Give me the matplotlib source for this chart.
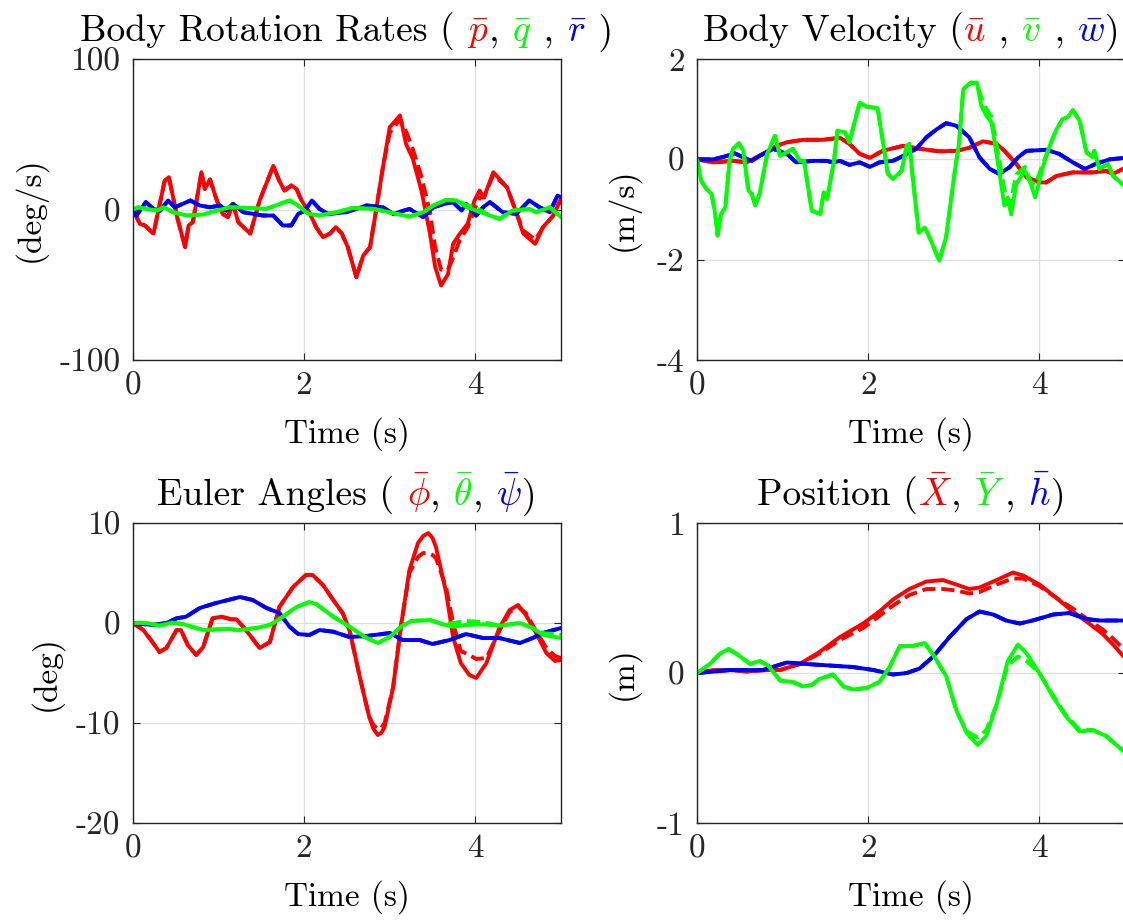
import matplotlib
matplotlib.use("Agg")
import matplotlib.pyplot as plt
from matplotlib.offsetbox import TextArea, HPacker, AnnotationBbox

plt.rcParams["font.family"] = ["cmr10"]
plt.rcParams["mathtext.fontset"] = "cm"
plt.rcParams["axes.unicode_minus"] = False

# ---------------- Body rotation rates (deg/s) ----------------
t_p = [0.00, 0.08, 0.14, 0.22, 0.24, 0.37, 0.42, 0.52, 0.61, 0.65, 0.70, 0.80, 0.84, 0.90, 0.98,
       1.05, 1.11, 1.17, 1.23, 1.37, 1.48, 1.64, 1.71, 1.77, 1.85, 1.91, 1.97, 2.07, 2.14, 2.22,
       2.30, 2.37, 2.44, 2.51, 2.61, 2.69, 2.77, 2.84, 2.92, 3.00, 3.12, 3.19, 3.27, 3.37, 3.47,
       3.53, 3.60, 3.68, 3.74, 3.82, 3.91, 3.99, 4.05, 4.10, 4.21, 4.37, 4.47, 4.56, 4.70, 4.79,
       4.91, 5.00]
p_true = [0, -9.5, -10.6, -15, -16, 19, 21.5, -6, -25, -10.6, -8.4, 24.8, 13.7, 20, 6,
          -3, -5, 3.8, -8.4, -16, 6, 29, 19, 12.6, 16, 13.7, 6, -3, -11.7, -18.4,
          -16, -11.7, -16, -25, -45, -30.6, -25, -0.7, 28, 54.7, 62.5, 43.6, 33.7, 12.6, -16,
          -38, -50.5, -43, -22.8, -16, -9.5, 6, 12.6, 8, 24.8, 14.8, -0.7, -16, -22.8, -11.7,
          -4, 7]
p_est = [0, -9.5, -10.6, -15, -16, 19, 21.5, -6, -25, -10.6, -8.4, 24.8, 13.7, 20, 6,
         -3, -5, 3.8, -8.4, -16, 6, 29, 19, 12.6, 16, 13.7, 6, -3, -11.7, -18.4,
         -16, -11.7, -16, -25, -45, -30.6, -25, -0.7, 28, 51, 60, 52, 40, 22, -2,
         -25, -40, -40, -32, -20, -12, 0, 8, 8, 23, 14.8, -0.7, -14, -20, -12,
         -4, 7]

t_q = [0, 0.06, 0.16, 0.28, 0.36, 0.47, 0.63, 0.82, 0.98, 1.13, 1.40, 1.56, 1.72, 1.83, 1.93,
       2.05, 2.18, 2.38, 2.57, 2.81, 3.04, 3.23, 3.39, 3.51, 3.66, 3.78, 3.90, 4.01, 4.17, 4.28,
       4.44, 4.63, 4.71, 4.87, 5.00]
q_true = [0, 1.5, 0.4, -0.7, 1.5, -1.8, -4, -3.3, -0.7, 1.5, 1, 0.4, 3.8, 6, 2.7,
          -2.9, -4, -1.8, 1.1, 0.4, -2.4, -4.7, -1.8, 2.7, 6.4, 6, 1.5, -0.7, -4, -6.2,
          -0.7, 0.4, -1.8, 1.5, -5]
q_est = [0, 1.5, 0.4, -0.7, 1.5, -1.8, -4, -3.3, -0.7, 1.5, 1, 0.4, 3.8, 6, 2.7,
         -2.9, -4, -1.8, 1.1, 0.4, -2.4, -4.7, -1.8, 2.7, 6.4, 6, 3, 1, -4, -6.2,
         -0.7, 0.4, -1.8, 1.5, -5]

t_r = [0, 0.04, 0.15, 0.24, 0.32, 0.41, 0.49, 0.67, 0.78, 0.90, 1.02, 1.09, 1.17, 1.29, 1.52,
       1.64, 1.75, 1.85, 1.93, 2.01, 2.09, 2.18, 2.28, 2.49, 2.73, 2.92, 3.04, 3.23, 3.39, 3.51,
       3.64, 3.74, 3.84, 3.89, 4.01, 4.09, 4.17, 4.32, 4.48, 4.63, 4.75, 4.87, 4.96, 5.00]
r_true = [0, -4, 4.9, 0.4, -0.7, 6, 1.5, 6, 2.7, 1.5, 2.7, -0.7, 3.8, -1.8, -4,
          -4, -10.6, -10.6, -2.9, -0.7, 6, 0.4, -2.9, -1.8, 2.7, 1.5, -2.9, 0.4, -5, 1.5,
          3.8, 4.9, -0.7, 3.8, -4, 1.5, 4.9, -1.8, -2.9, 6, 1.5, -1.8, 9.3, 8.2]
r_est = list(r_true)

# ---------------- Body velocity (m/s) ----------------
t_u = [0, 0.19, 0.42, 0.58, 0.73, 0.93, 1.05, 1.24, 1.47, 1.67, 1.78, 1.90, 2.02, 2.17, 2.41,
       2.60, 2.83, 3.03, 3.18, 3.34, 3.50, 3.59, 3.73, 3.85, 4.00, 4.08, 4.20, 4.39, 4.62, 4.78,
       4.86, 5.00]
u_true = [0, -0.06, -0.03, -0.06, 0.07, 0.27, 0.34, 0.39, 0.39, 0.43, 0.31, 0.11, 0.03, 0.17, 0.27,
          0.21, 0.16, 0.17, 0.23, 0.36, 0.31, 0.17, -0.09, -0.36, -0.46, -0.46, -0.33, -0.26, -0.26, -0.23,
          -0.29, -0.17]
u_est = list(u_true)

t_v = [0, 0.05, 0.11, 0.17, 0.21, 0.24, 0.28, 0.33, 0.38, 0.42, 0.49, 0.54, 0.60, 0.64, 0.68,
       0.73, 0.82, 0.91, 0.97, 1.12, 1.20, 1.25, 1.34, 1.44, 1.48, 1.52, 1.60, 1.64, 1.73, 1.78,
       1.90, 1.98, 2.11, 2.23, 2.29, 2.39, 2.45, 2.48, 2.52, 2.59, 2.66, 2.70, 2.83, 2.91, 3.01,
       3.06, 3.11, 3.20, 3.27, 3.32, 3.38, 3.44, 3.53, 3.59, 3.63, 3.67, 3.73, 3.83, 3.90, 3.95,
       4.04, 4.12, 4.20, 4.27, 4.33, 4.39, 4.47, 4.55, 4.62, 4.64, 4.70, 4.80, 4.86, 4.93, 5.00]
v_true = [0, -0.43, -0.59, -0.69, -1.06, -1.52, -1.09, -0.96, -0.03, 0.21, 0.32, 0.17, -0.62, -0.69, -0.92,
          -0.69, 0.11, 0.47, 0.07, 0.21, -0.03, -0.03, -1.02, -1.09, -0.66, -0.79, -0.03, 0.57, 0.54, 0.34,
          1.13, 1.05, 1.02, -0.29, -0.39, -0.23, 0.27, 0.31, -0.36, -1.46, -1.36, -1.49, -2.02, -1.55, -0.26,
          0.31, 1.40, 1.53, 1.53, 1.07, 0.87, 0.74, -0.23, -0.92, -0.76, -1.10, -0.49, -0.23, -0.49, -0.76,
          -0.16, 0.27, 0.60, 0.80, 0.84, 0.98, 0.77, 0.14, 0.04, 0.17, -0.19, -0.09, -0.33, -0.43, -0.55]
v_est = [0, -0.43, -0.59, -0.69, -1.06, -1.52, -1.09, -0.96, -0.03, 0.21, 0.32, 0.17, -0.62, -0.69, -0.92,
         -0.69, 0.11, 0.47, 0.07, 0.21, -0.03, -0.03, -1.02, -1.09, -0.66, -0.79, -0.03, 0.57, 0.54, 0.34,
         1.13, 1.05, 1.02, -0.29, -0.39, -0.23, 0.27, 0.31, -0.36, -1.46, -1.36, -1.49, -2.02, -1.55, -0.26,
         0.31, 1.40, 1.53, 1.50, 1.25, 1.00, 0.85, 0.00, -0.60, -0.90, -0.80, -0.30, -0.15, -0.45, -0.50,
         -0.10, 0.27, 0.60, 0.80, 0.84, 0.98, 0.77, 0.14, 0.04, 0.17, -0.19, -0.09, -0.33, -0.43, -0.55]

t_w = [0, 0.19, 0.31, 0.44, 0.54, 0.64, 0.73, 0.89, 1.05, 1.16, 1.36, 1.51, 1.59, 1.67, 1.78,
       1.90, 2.02, 2.13, 2.29, 2.41, 2.56, 2.68, 2.80, 2.91, 3.03, 3.18, 3.30, 3.42, 3.53, 3.65,
       3.75, 3.85, 4.08, 4.23, 4.39, 4.53, 4.66, 4.82, 5.00]
w_true = [0, 0, 0.05, 0.12, 0.04, -0.03, 0.07, 0.21, 0.11, -0.06, -0.03, -0.03, -0.06, -0.03, -0.11,
          -0.06, -0.15, -0.06, -0.03, 0.07, 0.21, 0.44, 0.6, 0.72, 0.67, 0.44, 0.04, -0.19, -0.29, -0.16,
          0.04, 0.17, 0.19, 0.11, -0.06, -0.19, -0.09, 0, 0.03]
w_est = list(w_true)

# ---------------- Euler angles (deg) ----------------
t_phi = [0, 0.12, 0.21, 0.31, 0.39, 0.51, 0.56, 0.64, 0.74, 0.82, 0.93, 1.03, 1.15, 1.21, 1.32,
         1.48, 1.60, 1.71, 1.87, 2.02, 2.10, 2.22, 2.34, 2.45, 2.53, 2.65, 2.76, 2.81, 2.86, 2.90,
         2.94, 3.04, 3.13, 3.23, 3.33, 3.39, 3.45, 3.50, 3.54, 3.66, 3.74, 3.83, 3.93, 4.01, 4.13,
         4.28, 4.40, 4.50, 4.59, 4.71, 4.83, 4.93, 5.00]
phi_true = [0, -0.7, -1.7, -2.9, -2.5, -0.7, -0.7, -2.2, -3.2, -2.4, 0.47, 0.63, 0.37, 0.37, -0.7,
            -2.5, -1.9, 1.6, 3.6, 4.8, 4.8, 3.8, 2.3, 1.0, -0.7, -5.4, -9.4, -10.6, -11.2, -11.0,
            -10.4, -6.4, -0.37, 5.3, 8.0, 8.7, 9.0, 8.5, 7.6, 3.0, -1.4, -4.0, -5.2, -5.5, -4.0,
            -0.5, 1.3, 1.8, 0.8, -1.0, -3.0, -3.8, -3.7]
phi_est = [0, -0.7, -1.7, -2.9, -2.5, -0.7, -0.7, -2.2, -3.2, -2.4, 0.47, 0.63, 0.37, 0.37, -0.7,
           -2.5, -1.9, 1.6, 3.6, 4.8, 4.8, 3.8, 2.3, 1.0, -0.7, -5.4, -9.4, -10.2, -10.6, -10.5,
           -10.0, -6.4, -0.37, 5.0, 6.6, 7.0, 7.0, 6.8, 6.5, 3.5, 0.0, -2.8, -3.2, -3.6, -3.5,
           -0.8, 1.1, 1.6, 1.0, -0.8, -2.5, -3.3, -3.5]

t_th = [0, 0.16, 0.31, 0.45, 0.58, 0.82, 1.09, 1.25, 1.44, 1.60, 1.75, 1.91, 2.06, 2.14, 2.34,
        2.53, 2.73, 2.86, 3.00, 3.13, 3.25, 3.47, 3.62, 3.74, 3.89, 4.09, 4.28, 4.52, 4.67, 4.79,
        5.00]
th_true = [0, 0, -0.27, 0.03, -0.1, -0.7, -0.6, -0.7, -0.5, -0.2, 0.63, 1.6, 2.1, 1.9, 0.63,
           -0.37, -1.5, -2.0, -1.4, -0.37, 0.2, 0.3, -0.13, -0.37, -0.2, -0.13, -0.27, 0, -0.5, -1.2,
           -1.5]
th_est = [0, 0, -0.27, 0.03, -0.1, -0.7, -0.6, -0.7, -0.5, -0.2, 0.63, 1.6, 2.1, 1.9, 0.63,
          -0.37, -1.5, -2.0, -1.4, -0.37, 0.2, 0.3, -0.13, 0.0, 0.2, 0.1, -0.27, 0, -0.5, -1.0,
          -1.2]

t_psi = [0, 0.23, 0.39, 0.51, 0.62, 0.78, 0.97, 1.25, 1.40, 1.56, 1.71, 1.83, 1.93, 2.06, 2.18,
         2.34, 2.53, 2.73, 3.00, 3.15, 3.35, 3.50, 3.70, 3.89, 4.09, 4.28, 4.52, 4.67, 4.79, 5.00]
psi_true = [0, -0.2, 0, 0.47, 0.63, 1.5, 2.0, 2.6, 2.3, 1.5, 1.0, -0.37, -1.1, -1.2, -0.7,
            -0.87, -1.4, -1.3, -1.0, -1.7, -1.7, -2.1, -1.7, -1.1, -1.5, -1.5, -2.0, -1.5, -1.0, -0.5]
psi_est = list(psi_true)

# ---------------- Position (m) ----------------
t_X = [0, 0.19, 0.39, 0.58, 0.81, 0.97, 1.20, 1.43, 1.67, 1.94, 2.13, 2.29, 2.48, 2.68, 2.87,
       3.03, 3.18, 3.30, 3.50, 3.69, 3.81, 4.00, 4.20, 4.39, 4.58, 4.74, 4.86, 5.00]
X_true = [0, 0.02, 0.02, 0.01, 0.02, 0.02, 0.06, 0.14, 0.24, 0.33, 0.41, 0.49, 0.56, 0.61, 0.62,
          0.59, 0.56, 0.57, 0.62, 0.67, 0.65, 0.59, 0.50, 0.41, 0.33, 0.26, 0.19, 0.10]
X_est = [0, 0.02, 0.02, 0.01, 0.02, 0.02, 0.06, 0.13, 0.22, 0.30, 0.38, 0.45, 0.52, 0.56, 0.56,
         0.55, 0.53, 0.54, 0.59, 0.63, 0.63, 0.58, 0.50, 0.43, 0.35, 0.29, 0.23, 0.15]

t_Y = [0, 0.15, 0.27, 0.37, 0.48, 0.62, 0.73, 0.83, 0.97, 1.12, 1.24, 1.34, 1.43, 1.59, 1.71,
       1.82, 1.98, 2.13, 2.25, 2.37, 2.52, 2.66, 2.76, 2.91, 3.03, 3.15, 3.28, 3.38, 3.50, 3.63,
       3.75, 3.85, 4.00, 4.16, 4.31, 4.47, 4.62, 4.78, 4.90, 5.00]
Y_true = [0, 0.06, 0.13, 0.16, 0.12, 0.06, 0.08, 0.05, -0.05, -0.06, -0.09, -0.08, -0.04, -0.01, -0.09,
          -0.11, -0.10, -0.06, 0.04, 0.18, 0.18, 0.20, 0.12, -0.02, -0.25, -0.40, -0.48, -0.42, -0.21, 0.08,
          0.19, 0.13, 0.0, -0.16, -0.29, -0.39, -0.38, -0.42, -0.48, -0.53]
Y_est = [0, 0.06, 0.13, 0.16, 0.12, 0.06, 0.08, 0.05, -0.05, -0.06, -0.09, -0.08, -0.04, -0.01, -0.09,
         -0.11, -0.10, -0.06, 0.04, 0.18, 0.18, 0.20, 0.12, -0.02, -0.25, -0.39, -0.43, -0.38, -0.21, 0.05,
         0.11, 0.08, 0.0, -0.15, -0.28, -0.38, -0.38, -0.42, -0.48, -0.53]

t_h = [0, 0.39, 0.77, 1.05, 1.28, 1.55, 1.82, 2.06, 2.29, 2.45, 2.60, 2.76, 2.95, 3.15, 3.30,
       3.46, 3.61, 3.77, 3.92, 4.16, 4.35, 4.55, 4.70, 5.00]
h_true = [0, 0.02, 0.02, 0.07, 0.06, 0.05, 0.04, 0.02, -0.01, 0, 0.03, 0.11, 0.24, 0.36, 0.41,
          0.39, 0.35, 0.33, 0.35, 0.39, 0.40, 0.36, 0.35, 0.35]
h_est = list(h_true)

# ---------------- figure ----------------
FS = 24
FS_TITLE = 27
RED, GREEN, BLUE = (1, 0, 0), (0, 1, 0), (0, 0, 1)
LW = 2.8
DASH = (0, (3.4, 1.5))

fig = plt.figure(figsize=(11.23, 9.21), dpi=100)
W = 0.3811
H_top, H_bot = 0.3268, 0.3257
axes_pos = [
    [0.1184, 0.6091, W, H_top],
    [0.6207, 0.6091, W, H_top],
    [0.1184, 0.1064, W, H_bot],
    [0.6207, 0.1064, W, H_bot],
]

panels = [
    dict(series=[(t_p, p_true, p_est, RED), (t_r, r_true, r_est, BLUE), (t_q, q_true, q_est, GREEN)],
         ylim=(-100, 100), yticks=[-100, 0, 100], ylabel="(deg/s)", ylab_x=-0.201,
         title=[("Body Rotation Rates ( ", "k"), (r"$\bar{p}$", RED), (", ", "k"),
                (r"$\bar{q}$", GREEN), (" , ", "k"), (r"$\bar{r}$", BLUE), (" )", "k")]),
    dict(series=[(t_u, u_true, u_est, RED), (t_w, w_true, w_est, BLUE), (t_v, v_true, v_est, GREEN)],
         ylim=(-4, 2), yticks=[-4, -2, 0, 2], ylabel="(m/s)", ylab_x=-0.135,
         title=[("Body Velocity (", "k"), (r"$\bar{u}$", RED), (" , ", "k"),
                (r"$\bar{v}$", GREEN), (" , ", "k"), (r"$\bar{w}$", BLUE), (")", "k")]),
    dict(series=[(t_phi, phi_true, phi_est, RED), (t_psi, psi_true, psi_est, BLUE), (t_th, th_true, th_est, GREEN)],
         ylim=(-20, 10), yticks=[-20, -10, 0, 10], ylabel="(deg)", ylab_x=-0.164,
         title=[("Euler Angles ( ", "k"), (r"$\bar{\phi}$", RED), (", ", "k"),
                (r"$\bar{\theta}$", GREEN), (", ", "k"), (r"$\bar{\psi}$", BLUE), (")", "k")]),
    dict(series=[(t_X, X_true, X_est, RED), (t_h, h_true, h_est, BLUE), (t_Y, Y_true, Y_est, GREEN)],
         ylim=(-1, 1), yticks=[-1, 0, 1], ylabel="(m)", ylab_x=-0.135,
         title=[("Position (", "k"), (r"$\bar{X}$", RED), (", ", "k"),
                (r"$\bar{Y}$", GREEN), (", ", "k"), (r"$\bar{h}$", BLUE), (")", "k")]),
]


def colored_title(ax, pieces):
    areas = [TextArea(s, textprops=dict(color=c, fontsize=FS_TITLE)) for s, c in pieces]
    box = HPacker(children=areas, align="baseline", pad=0, sep=0)
    ab = AnnotationBbox(box, (0.5, 1.0), xycoords="axes fraction",
                        xybox=(0, 6), boxcoords="offset points",
                        box_alignment=(0.5, 0.0), frameon=False, pad=0,
                        annotation_clip=False)
    ax.add_artist(ab)


for pos, cfg in zip(axes_pos, panels):
    ax = fig.add_axes(pos)
    for t, y_true, y_est, col in cfg["series"]:
        ax.plot(t, y_true, color=col, lw=LW, solid_joinstyle="round", solid_capstyle="round")
        ax.plot(t, y_est, color=col, lw=LW, linestyle=DASH)
    ax.set_xlim(0, 5)
    ax.set_ylim(*cfg["ylim"])
    ax.set_xticks([0, 2, 4])
    ax.set_xticklabels(["0", "2", "4"])
    ax.set_yticks(cfg["yticks"])
    ax.set_yticklabels([str(v) for v in cfg["yticks"]])
    ax.grid(True, color="#dedede", lw=0.9)
    ax.set_axisbelow(True)
    ax.tick_params(direction="in", length=5, width=0.8, top=True, right=True,
                   labelsize=FS, colors="#262626", pad=8)
    ax.tick_params(axis="y", pad=9)
    for sp in ax.spines.values():
        sp.set_color("#262626")
        sp.set_linewidth(1.0)
    ax.set_xlabel("Time (s)", fontsize=FS, color="k")
    ax.xaxis.set_label_coords(0.5, -0.19)
    ax.set_ylabel(cfg["ylabel"], fontsize=FS, color="k")
    ax.yaxis.set_label_coords(cfg["ylab_x"], 0.5)
    colored_title(ax, cfg["title"])

fig.savefig("out.png", dpi=100)
